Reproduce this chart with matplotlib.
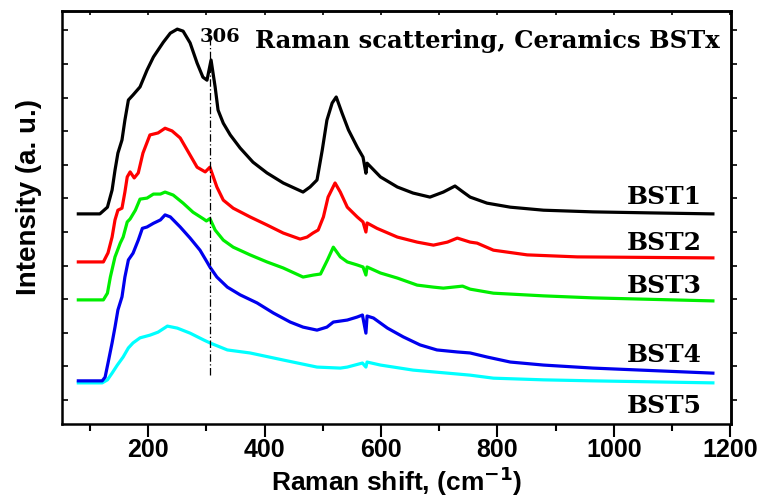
import numpy as np
import matplotlib.pyplot as plt
from matplotlib import font_manager
from matplotlib.ticker import MultipleLocator, NullFormatter

# Raman spectra of BSTx ceramics, offset vertically (arbitrary units)
bst1_x = [80, 117, 130, 138, 143, 148, 155, 160, 166, 174, 186, 198, 209, 226, 238, 250,
          260, 272, 284, 294, 301, 308, 315, 320, 329, 341, 358, 380, 404, 432, 466, 478,
          490, 499, 507, 516, 523, 533, 544, 559, 569, 574, 576, 599, 628, 655, 684, 707,
          727, 741, 753, 782, 822, 879, 964, 1062, 1170]
bst1_y = [6.54, 6.54, 6.74, 7.25, 7.84, 8.35, 8.74, 9.33, 9.93, 10.08, 10.32, 10.82, 11.21,
          11.65, 11.92, 12.04, 11.98, 11.63, 11.03, 10.61, 10.52, 11.12, 10.32, 9.63, 9.24,
          8.89, 8.50, 8.08, 7.76, 7.46, 7.19, 7.34, 7.55, 8.44, 9.33, 9.84, 10.02, 9.54, 9.04,
          8.53, 8.23, 7.75, 8.05, 7.64, 7.34, 7.16, 7.04, 7.19, 7.37, 7.19, 7.04, 6.86, 6.74,
          6.65, 6.60, 6.57, 6.54]

bst2_x = [80, 123, 131, 138, 143, 148, 155, 160, 164, 169, 176, 183, 191, 203, 217, 229,
          241, 255, 269, 284, 298, 306, 318, 329, 346, 375, 404, 432, 461, 473, 483, 492,
          501, 509, 521, 530, 542, 559, 569, 574, 576, 593, 628, 662, 690, 714, 731, 753,
          765, 793, 851, 937, 1170]
bst2_y = [5.11, 5.11, 5.38, 5.85, 6.36, 6.65, 6.71, 7.19, 7.64, 7.79, 7.61, 7.76, 8.35,
          8.89, 8.95, 9.09, 9.01, 8.80, 8.38, 7.93, 7.79, 7.93, 7.34, 6.95, 6.71, 6.45, 6.21,
          5.97, 5.79, 5.85, 5.97, 6.06, 6.45, 7.04, 7.46, 7.19, 6.74, 6.45, 6.30, 6.00, 6.27,
          6.11, 5.85, 5.70, 5.61, 5.70, 5.82, 5.70, 5.67, 5.46, 5.32, 5.26, 5.23]

bst3_x = [80, 123, 130, 135, 143, 152, 157, 164, 169, 178, 186, 198, 209, 221, 229, 243,
          260, 277, 295, 300, 306, 315, 329, 346, 375, 404, 432, 466, 484, 496, 508, 518,
          530, 542, 559, 569, 574, 576, 599, 628, 662, 690, 707, 740, 753, 793, 879, 964,
          1170]
bst3_y = [3.98, 3.98, 4.18, 4.66, 5.26, 5.67, 5.85, 6.30, 6.39, 6.65, 6.98, 7.01, 7.13,
          7.13, 7.19, 7.10, 6.86, 6.59, 6.39, 6.33, 6.40, 6.06, 5.76, 5.55, 5.32, 5.11, 4.93,
          4.66, 4.72, 4.75, 5.17, 5.55, 5.26, 5.11, 5.02, 4.96, 4.72, 4.96, 4.78, 4.63, 4.42,
          4.36, 4.33, 4.39, 4.30, 4.18, 4.10, 4.04, 3.95]

bst4_x = [80, 121, 126, 131, 138, 143, 148, 155, 160, 166, 174, 183, 190, 198, 209, 221,
          229, 238, 255, 272, 289, 301, 306, 318, 336, 358, 387, 415, 444, 466, 490, 507,
          518, 542, 559, 568, 574, 576, 587, 611, 638, 667, 696, 731, 753, 782, 822, 879,
          964, 1170]
bst4_y = [1.57, 1.57, 1.68, 2.10, 2.70, 3.17, 3.68, 4.07, 4.66, 5.17, 5.37, 5.76, 6.11,
          6.15, 6.26, 6.36, 6.51, 6.45, 6.15, 5.82, 5.46, 5.11, 4.96, 4.66, 4.36, 4.13, 3.89,
          3.59, 3.32, 3.17, 3.08, 3.17, 3.32, 3.38, 3.47, 3.53, 2.99, 3.50, 3.44, 3.14, 2.88,
          2.64, 2.49, 2.43, 2.40, 2.28, 2.13, 2.04, 1.95, 1.80]

bst5_x = [80, 121, 130, 138, 147, 157, 166, 174, 186, 203, 217, 233, 250, 272, 295, 306,
          336, 375, 432, 490, 530, 542, 568, 574, 576, 599, 655, 714, 753, 793, 879, 964,
          1170]
bst5_y = [1.51, 1.51, 1.60, 1.80, 2.04, 2.28, 2.55, 2.70, 2.85, 2.93, 3.02, 3.20, 3.14,
          2.99, 2.79, 2.70, 2.49, 2.40, 2.19, 1.98, 1.95, 1.98, 2.10, 1.98, 2.13, 2.04, 1.89,
          1.80, 1.74, 1.65, 1.60, 1.57, 1.51]

series = [
    ("BST1", bst1_x, bst1_y, "black", 6.83),
    ("BST2", bst2_x, bst2_y, "#ff0000", 5.46),
    ("BST3", bst3_x, bst3_y, "#00ee00", 4.18),
    ("BST4", bst4_x, bst4_y, "#0000ee", 2.13),
    ("BST5", bst5_x, bst5_y, "#00ffff", 0.61),
]

peak_pos = 306

# make sure the regular-width Liberation Sans Bold is picked, not the Narrow cut
bold_file = None
for f in font_manager.fontManager.ttflist:
    if f.fname.endswith("LiberationSans-Bold.ttf"):
        bold_file = f.fname
        break
if bold_file:
    sans_bold = font_manager.FontProperties(fname=bold_file)
else:
    sans_bold = font_manager.FontProperties(family="Liberation Sans", weight="bold")

plt.rcParams['font.family'] = 'Liberation Sans'
plt.rcParams['mathtext.default'] = 'bf'

fig = plt.figure(figsize=(7.61, 4.97), dpi=100)
ax = fig.add_axes([0.0815, 0.1469, 0.879, 0.831])

# draw bottom curves first so the upper ones sit on top
for name, xs, ys, color, label_y in reversed(series):
    ax.plot(xs, ys, color=color, lw=2.3, solid_joinstyle='round')
    ax.text(1151, label_y, name, ha='right', va='baseline', fontsize=18,
            fontweight='bold', family='DejaVu Serif')

ax.plot([peak_pos, peak_pos], [1.74, 11.71], color='black', lw=0.9,
        linestyle=(0, (6, 2, 1, 2)))
ax.text(289, 11.65, str(peak_pos), ha='left', va='baseline', fontsize=14,
        fontweight='bold', family='DejaVu Serif')
ax.text(384, 11.48, "Raman scattering, Ceramics BSTx", ha='left', va='baseline',
        fontsize=17.5, fontweight='bold', family='DejaVu Serif')

ax.set_xlim(52, 1201)
ax.set_ylim(0.286, 12.58)
ax.xaxis.set_major_locator(MultipleLocator(200))
ax.xaxis.set_minor_locator(MultipleLocator(100))
ax.yaxis.set_major_locator(MultipleLocator(1))
ax.yaxis.set_major_formatter(NullFormatter())

ax.tick_params(axis='x', which='major', direction='out', length=9, width=1.5, pad=1)
ax.tick_params(axis='x', which='minor', direction='out', length=5, width=1.5)
ax.tick_params(axis='y', which='major', direction='in', length=4, width=1.2,
               left=True, right=False)
for lbl in ax.get_xticklabels():
    lbl.set_fontproperties(sans_bold)
    lbl.set_fontsize(18)

# short inward ticks along the top edge
ax_t = ax.secondary_xaxis('top')
ax_t.xaxis.set_major_locator(MultipleLocator(200))
ax_t.xaxis.set_minor_locator(MultipleLocator(100))
ax_t.tick_params(which='both', direction='in', length=3, width=1.2, labeltop=False)
ax_t.spines['top'].set_linewidth(1.8)

# mirrored ticks on the right side point outward
ax_r = ax.secondary_yaxis('right')
ax_r.yaxis.set_major_locator(MultipleLocator(1))
ax_r.tick_params(direction='out', length=4, width=1.2, labelright=False)
ax_r.spines['right'].set_linewidth(1.8)

for sp in ax.spines.values():
    sp.set_linewidth(1.8)

ax.set_xlabel(r"Raman shift, (cm$^{-1}$)", fontproperties=sans_bold, fontsize=19,
              labelpad=2)
ax.set_ylabel("Intensity (a. u.)", fontproperties=sans_bold, fontsize=20)
ax.yaxis.set_label_coords(-0.03, 0.55)

fig.savefig("out.png", dpi=100)
